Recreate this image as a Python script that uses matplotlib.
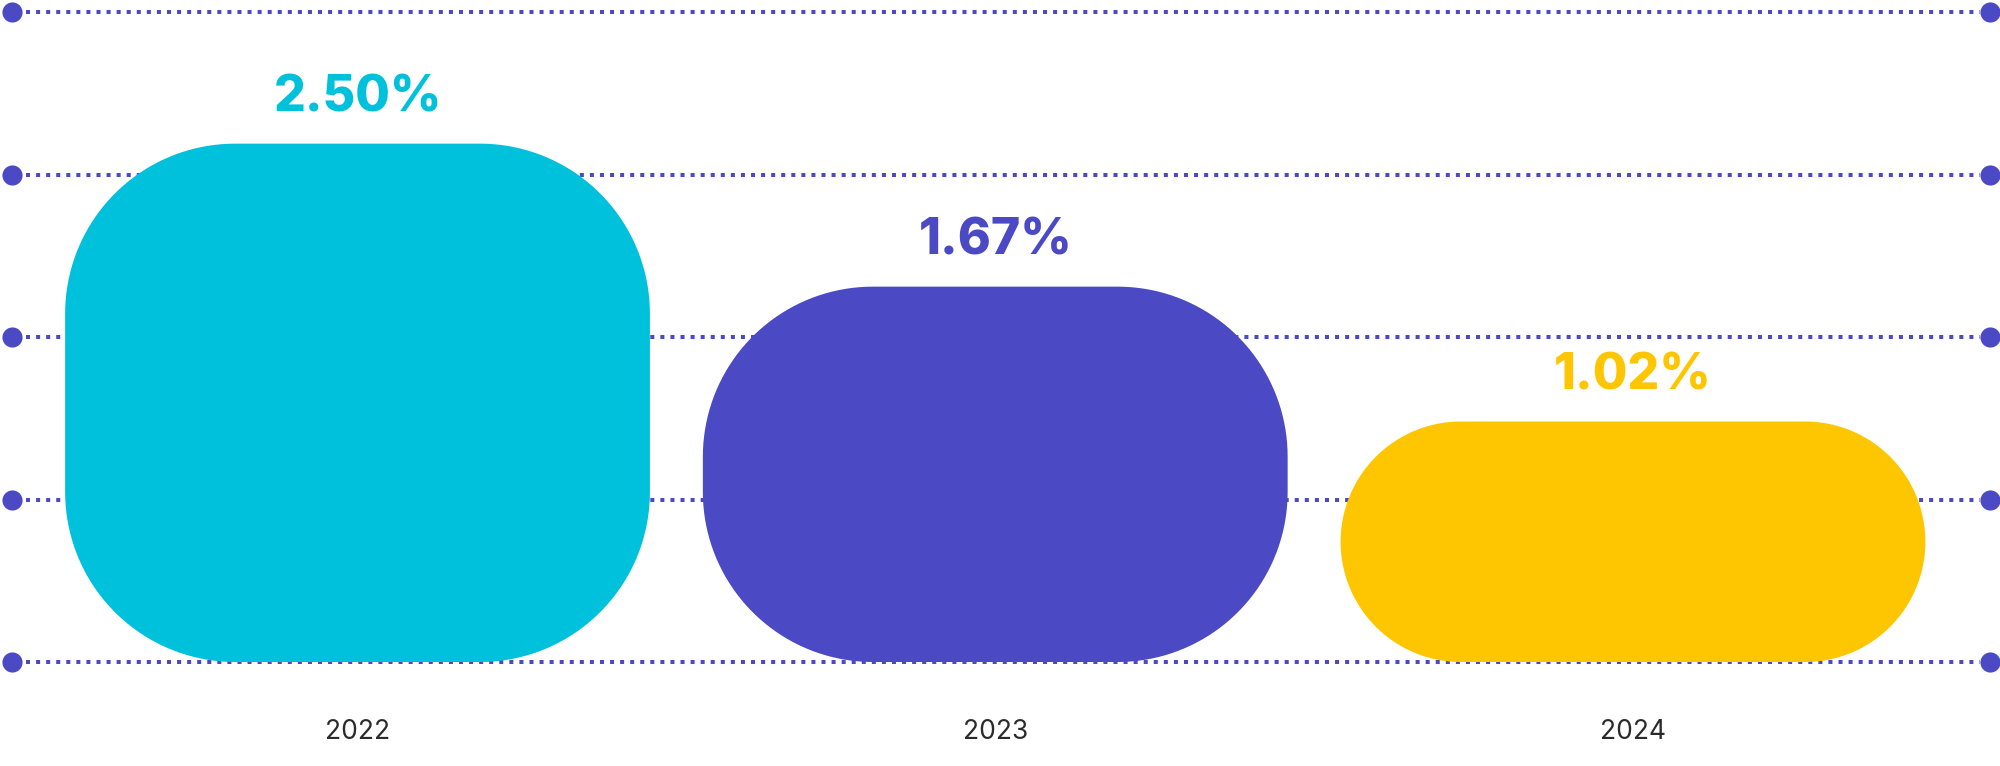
import numpy as np
import matplotlib
matplotlib.use("Agg")
import matplotlib.pyplot as plt
from matplotlib.patches import Polygon
import matplotlib.transforms as mtransforms

# chart data
years = ["2022", "2023", "2024"]
rates = [2.50, 1.67, 1.02]
# drawn bar heights, in grid steps (the design does not scale them linearly)
bar_heights = [3.19, 2.31, 1.48]
bar_colors = ["#00C1DC", "#4B4AC4", "#FEC600"]
grid_levels = [0, 1, 2, 3, 4]

GRID_COLOR = "#4B4AC4"
TEXT_COLOR = "#2B2B2B"

W, H, DPI = 2000, 766, 100
fig = plt.figure(figsize=(W / DPI, H / DPI), dpi=DPI)
ax = fig.add_axes([0, 0, 1, 1])
ax.set_xlim(-0.5606, 2.5755)
ax.set_ylim(-0.64, 4.074)
ax.axis("off")

# pixel size of one data unit, used to keep the corners circular
px_x = W / (ax.get_xlim()[1] - ax.get_xlim()[0])
px_y = H / (ax.get_ylim()[1] - ax.get_ylim()[0])


def rounded_bar(x0, x1, y0, y1, r_px, n=40):
    rx, ry = r_px / px_x, r_px / px_y
    # corner centres and start angles, going round counter-clockwise
    corners = [(x1 - rx, y0 + ry, -90), (x1 - rx, y1 - ry, 0),
               (x0 + rx, y1 - ry, 90), (x0 + rx, y0 + ry, 180)]
    pts = []
    for cx, cy, a0 in corners:
        t = np.radians(np.linspace(a0, a0 + 90, n))
        pts.append(np.column_stack([cx + rx * np.cos(t), cy + ry * np.sin(t)]))
    return np.vstack(pts)


# dotted grid lines with a round dot at each end
trans = mtransforms.blended_transform_factory(ax.transAxes, ax.transData)
for level in grid_levels:
    ax.axhline(level, xmin=0.013, xmax=0.99, color=GRID_COLOR, lw=2.9,
               linestyle=(0, (1, 1.5)), dash_capstyle="butt", zorder=1)
    ax.plot([0.0058, 0.995], [level, level], "o", ms=14.5, color=GRID_COLOR,
            mec="none", transform=trans, zorder=2, clip_on=False)

bar_width = 0.917
corner_px = 170
for i, (h, c) in enumerate(zip(bar_heights, bar_colors)):
    r_px = min(corner_px, h * px_y / 2)
    verts = rounded_bar(i - bar_width / 2, i + bar_width / 2, 0, h, r_px)
    ax.add_patch(Polygon(verts, closed=True, fc=c, ec="none", zorder=3))
    ax.annotate("%.2f%%" % rates[i], (i, h), xytext=(0, 32),
                textcoords="offset pixels", ha="center", va="baseline",
                fontsize=36, fontweight="heavy", family="Inter", color=c)
    ax.annotate(years[i], (i, 0), xytext=(0, -77),
                textcoords="offset pixels", ha="center", va="baseline",
                fontsize=19, family="Inter", color=TEXT_COLOR)

fig.savefig("out.png", dpi=DPI)
